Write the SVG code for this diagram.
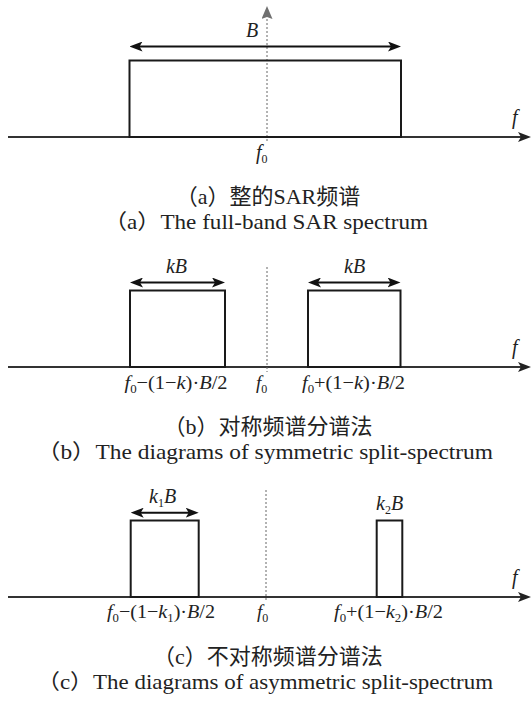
<svg xmlns="http://www.w3.org/2000/svg" width="532" height="702" viewBox="0 0 532 702">
<style>
.ax{stroke:#333;stroke-width:1.8;fill:none}
.rc{stroke:#1a1a1a;stroke-width:2;fill:none}
.dbl{stroke:#111;stroke-width:2;fill:none}
.dash{stroke:#666;stroke-width:1;stroke-dasharray:2 2;fill:none}
.it{font-family:"Liberation Serif",serif;font-style:italic;font-size:20px;fill:#222}
.lb{font-family:"Liberation Serif",serif;font-style:italic;font-size:19px;fill:#222}
.up{font-style:normal}
.sub{font-style:normal;font-size:12px}
.cn{font-family:"Liberation Serif","Noto Sans CJK SC",serif;font-size:22px;fill:#222}
.en{font-family:"Liberation Serif","Noto Sans CJK SC",serif;font-size:21px;fill:#222}
</style>
<defs>
<marker id="ah" markerUnits="userSpaceOnUse" viewBox="0 0 13 10" markerWidth="13" markerHeight="10" refX="5" refY="5" orient="auto-start-reverse">
<path d="M0,0 L13,5 L0,10 L3,5 Z" fill="#111"/>
</marker>
<marker id="axh" markerUnits="userSpaceOnUse" viewBox="0 0 13 10" markerWidth="13" markerHeight="10" refX="5" refY="5" orient="auto">
<path d="M0,0 L13,5 L0,10 L3,5 Z" fill="#222"/>
</marker>
<marker id="gh" markerUnits="userSpaceOnUse" viewBox="0 0 13 11" markerWidth="13" markerHeight="11" refX="1" refY="5.5" orient="auto">
<path d="M0,0 L13,5.5 L0,11 L2,5.5 Z" fill="#707070"/>
</marker>
</defs>
<rect width="532" height="702" fill="#fff"/>

<g id="connectors">
<line class="ax" x1="8" y1="137" x2="523" y2="137" marker-end="url(#axh)"/>
<line class="dash" x1="267" y1="141" x2="267" y2="18" marker-end="url(#gh)"/>
<line class="dbl" x1="137.5" y1="46.5" x2="393" y2="46.5" marker-start="url(#ah)" marker-end="url(#ah)"/>

<line class="ax" x1="8" y1="367" x2="523" y2="367" marker-end="url(#axh)"/>
<line class="dash" x1="267" y1="267" x2="267" y2="372"/>
<line class="dbl" x1="138" y1="282.5" x2="217" y2="282.5" marker-start="url(#ah)" marker-end="url(#ah)"/>
<line class="dbl" x1="316" y1="282.5" x2="392.5" y2="282.5" marker-start="url(#ah)" marker-end="url(#ah)"/>

<line class="ax" x1="8" y1="597" x2="523" y2="597" marker-end="url(#axh)"/>
<line class="dash" x1="266" y1="490" x2="266" y2="601"/>
<line class="dbl" x1="138.7" y1="512.7" x2="190.7" y2="512.7" marker-start="url(#ah)" marker-end="url(#ah)"/>
</g>

<g id="band-a">
<rect class="rc" x="129.5" y="60.5" width="271.5" height="76.5"/>
<text class="it" x="246" y="37">B</text>
</g>
<g id="labels-a">
<text class="it" x="512" y="124">f</text>
<text class="it" x="256" y="159">f<tspan class="sub" dy="4">0</tspan></text>
<text class="cn" x="268" y="204" text-anchor="middle">（a）整的SAR频谱</text>
<text class="en" x="104" y="229" textLength="324" lengthAdjust="spacingAndGlyphs">（a）The full-band SAR spectrum</text>
</g>

<g id="band-b-left">
<rect class="rc" x="130" y="290.5" width="95" height="76.5"/>
<text class="it" x="176.5" y="273" text-anchor="middle">kB</text>
</g>
<g id="band-b-right">
<rect class="rc" x="308" y="290.5" width="92.5" height="76.5"/>
<text class="it" x="354.6" y="273" text-anchor="middle">kB</text>
</g>
<g id="labels-b">
<text class="it" x="512" y="354">f</text>
<text class="lb" x="124.5" y="389" textLength="103" lengthAdjust="spacingAndGlyphs">f<tspan class="sub" dy="4">0</tspan><tspan class="up" dy="-4">−(1−</tspan>k<tspan class="up">)·</tspan>B<tspan class="up">/2</tspan></text>
<text class="lb" x="256" y="389">f<tspan class="sub" dy="4">0</tspan></text>
<text class="lb" x="302" y="389" textLength="103" lengthAdjust="spacingAndGlyphs">f<tspan class="sub" dy="4">0</tspan><tspan class="up" dy="-4">+(1−</tspan>k<tspan class="up">)·</tspan>B<tspan class="up">/2</tspan></text>
<text class="cn" x="268" y="434" text-anchor="middle">（b）对称频谱分谱法</text>
<text class="en" x="37" y="459" textLength="456" lengthAdjust="spacingAndGlyphs">（b）The diagrams of symmetric split-spectrum</text>
</g>

<g id="band-c-left">
<rect class="rc" x="130.7" y="520.5" width="68" height="76.5"/>
<text class="it" x="149" y="503">k<tspan class="sub" dy="4">1</tspan><tspan dy="-4">B</tspan></text>
</g>
<g id="band-c-right">
<rect class="rc" x="376.7" y="520.5" width="25.6" height="76.5"/>
<text class="it" x="376" y="510">k<tspan class="sub" dy="4">2</tspan><tspan dy="-4">B</tspan></text>
</g>
<g id="labels-c">
<text class="it" x="512" y="584">f</text>
<text class="lb" x="107" y="618" textLength="108" lengthAdjust="spacingAndGlyphs">f<tspan class="sub" dy="4">0</tspan><tspan class="up" dy="-4">−(1−</tspan>k<tspan class="sub" dy="4">1</tspan><tspan class="up" dy="-4">)·</tspan>B<tspan class="up">/2</tspan></text>
<text class="lb" x="257" y="618">f<tspan class="sub" dy="4">0</tspan></text>
<text class="lb" x="334" y="618" textLength="109" lengthAdjust="spacingAndGlyphs">f<tspan class="sub" dy="4">0</tspan><tspan class="up" dy="-4">+(1−</tspan>k<tspan class="sub" dy="4">2</tspan><tspan class="up" dy="-4">)·</tspan>B<tspan class="up">/2</tspan></text>
<text class="cn" x="268" y="664" text-anchor="middle">（c）不对称频谱分谱法</text>
<text class="en" x="37" y="689" textLength="456" lengthAdjust="spacingAndGlyphs">（c）The diagrams of asymmetric split-spectrum</text>
</g>
</svg>
